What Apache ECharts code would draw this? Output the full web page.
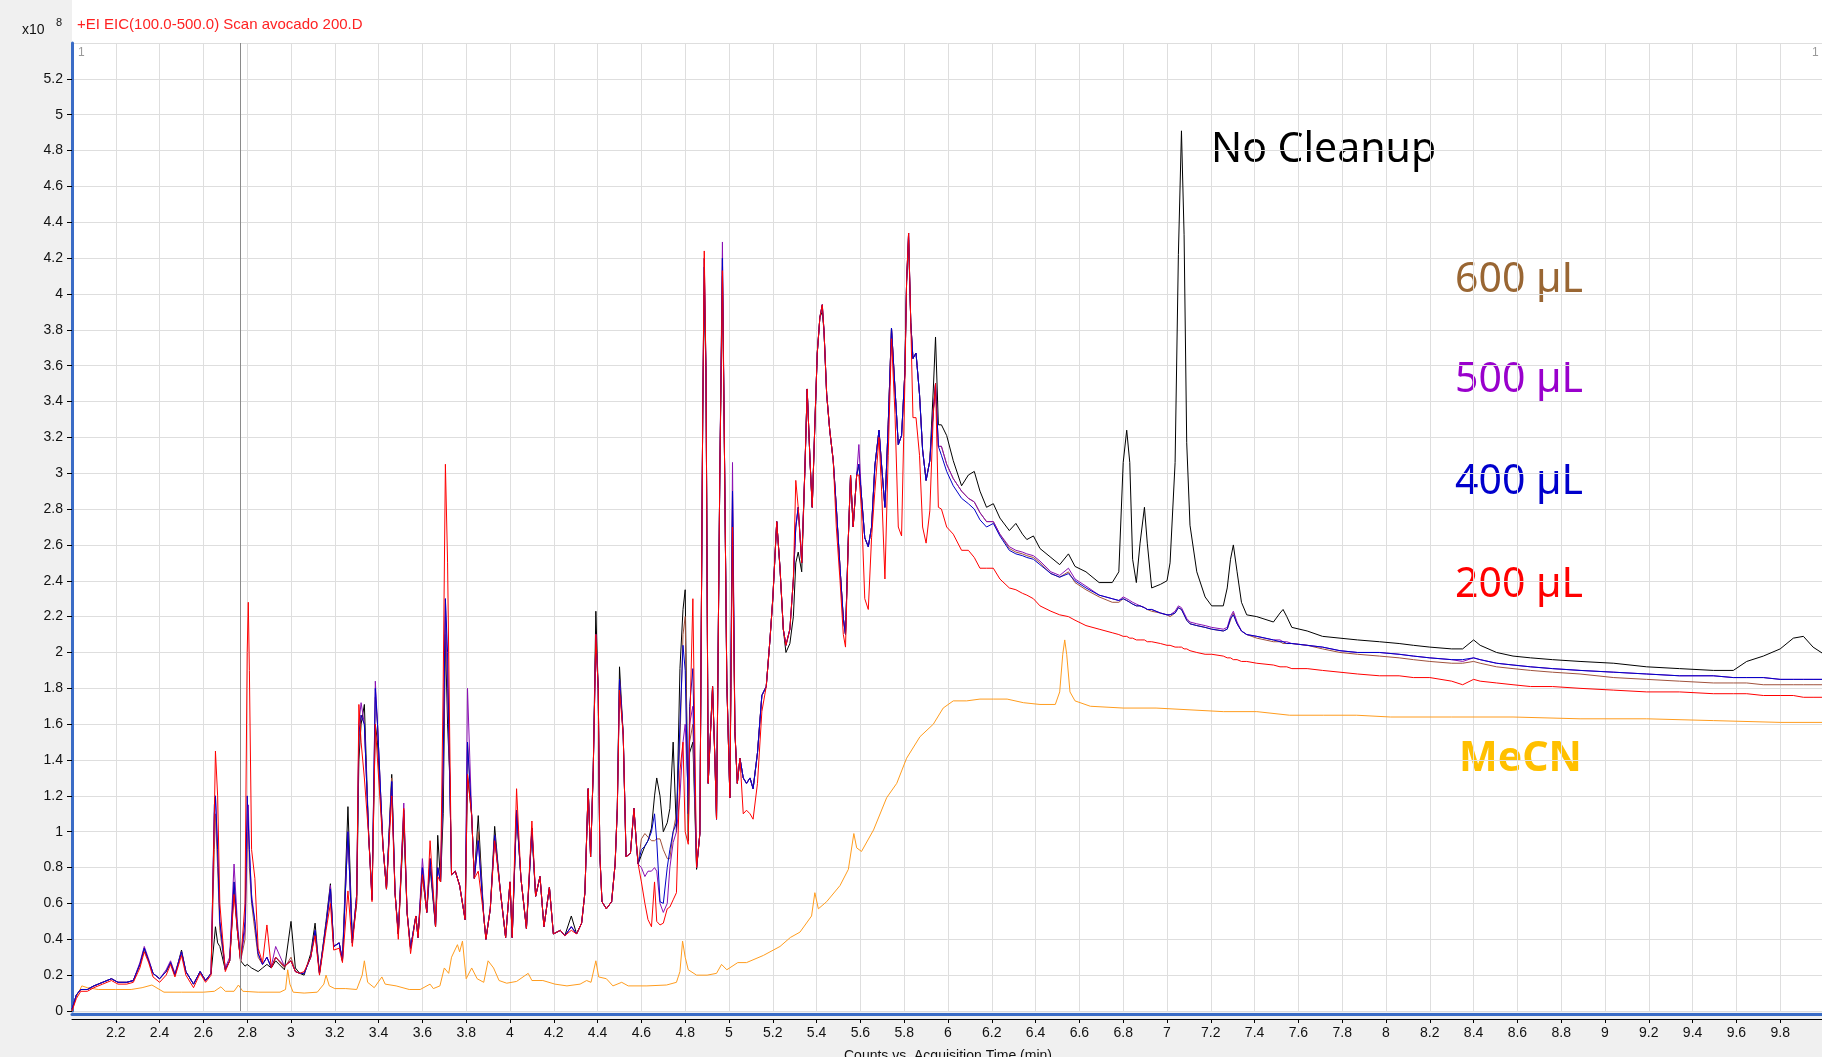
<!DOCTYPE html>
<html>
<head>
<meta charset="utf-8">
<title>EIC avocado</title>
<script src="https://cdn.jsdelivr.net/npm/echarts@6/dist/echarts.min.js"></script>
<style>
  html, body { margin: 0; padding: 0; background: #f0f0f0; }
  #chart { width: 1822px; height: 1057px; }
</style>
</head>
<body>
<div id="chart"></div>
<script>
// retention times (min) shared by the five extract traces
var times = [
  2.00, 2.02, 2.04, 2.07, 2.10, 2.14, 2.18, 2.21, 2.25, 2.28,
  2.31, 2.33, 2.35, 2.37, 2.40, 2.43, 2.45, 2.47, 2.50, 2.52,
  2.555, 2.585, 2.61, 2.635, 2.65, 2.655, 2.665, 2.675, 2.70, 2.72,
  2.74, 2.755, 2.77, 2.79, 2.80, 2.805, 2.81, 2.82, 2.835, 2.85,
  2.87, 2.89, 2.91, 2.93, 2.97, 3.00, 3.02, 3.04, 3.06, 3.09,
  3.11, 3.13, 3.16, 3.18, 3.195, 3.22, 3.235, 3.26, 3.28, 3.30,
  3.31, 3.32, 3.335, 3.355, 3.37, 3.385, 3.395, 3.42, 3.436, 3.46,
  3.475, 3.49, 3.515, 3.53, 3.546, 3.57, 3.58, 3.60, 3.62, 3.635,
  3.66, 3.67, 3.683, 3.695, 3.705, 3.715, 3.725, 3.733, 3.75, 3.77,
  3.795, 3.806, 3.825, 3.837, 3.855, 3.88, 3.89, 3.91, 3.93, 3.955,
  3.98, 4.00, 4.01, 4.03, 4.05, 4.075, 4.10, 4.117, 4.137, 4.155,
  4.18, 4.198, 4.23, 4.25, 4.28, 4.304, 4.327, 4.342, 4.357, 4.368,
  4.38, 4.392, 4.403, 4.41, 4.42, 4.44, 4.464, 4.48, 4.49, 4.50,
  4.517, 4.53, 4.55, 4.566, 4.578, 4.585, 4.60, 4.616, 4.63, 4.646,
  4.66, 4.67, 4.685, 4.70, 4.718, 4.73, 4.745, 4.76, 4.776, 4.79,
  4.80, 4.814, 4.82, 4.835, 4.852, 4.867, 4.88, 4.887, 4.895, 4.905,
  4.925, 4.936, 4.943, 4.958, 4.97, 4.978, 4.99, 5.004, 5.016, 5.027,
  5.038, 5.05, 5.065, 5.08, 5.096, 5.11, 5.13, 5.15, 5.17, 5.187,
  5.20, 5.218, 5.233, 5.248, 5.26, 5.278, 5.294, 5.305, 5.316, 5.332,
  5.347, 5.357, 5.37, 5.38, 5.392, 5.403, 5.415, 5.426, 5.434, 5.446,
  5.46, 5.476, 5.49, 5.507, 5.522, 5.532, 5.545, 5.555, 5.567, 5.583,
  5.593, 5.605, 5.62, 5.636, 5.651, 5.666, 5.685, 5.697, 5.712, 5.727,
  5.742, 5.758, 5.773, 5.788, 5.803, 5.811, 5.82, 5.83, 5.84, 5.854,
  5.87, 5.884, 5.90, 5.917, 5.933, 5.943, 5.956, 5.97, 5.994, 6.024,
  6.062, 6.093, 6.12, 6.146, 6.176, 6.207, 6.237, 6.28, 6.31, 6.34,
  6.36, 6.39, 6.42, 6.47, 6.51, 6.55, 6.58, 6.63, 6.69, 6.75,
  6.78, 6.80, 6.816, 6.83, 6.843, 6.86, 6.877, 6.897, 6.91, 6.93,
  6.97, 7.00, 7.014, 7.037, 7.052, 7.066, 7.078, 7.09, 7.105, 7.136,
  7.174, 7.204, 7.257, 7.275, 7.29, 7.303, 7.32, 7.34, 7.364, 7.41,
  7.486, 7.516, 7.53, 7.547, 7.57, 7.64, 7.71, 7.79, 7.87, 7.97,
  8.06, 8.125, 8.20, 8.30, 8.35, 8.40, 8.43, 8.505, 8.58, 8.66,
  8.76, 8.886, 9.04, 9.19, 9.34, 9.495, 9.586, 9.647, 9.723, 9.80,
  9.86, 9.906, 9.95, 10.0
];

// counts, x10^8
var noCleanup = [
  0.01, 0.09, 0.12, 0.12, 0.14, 0.16, 0.18, 0.16, 0.16, 0.17,
  0.26, 0.35, 0.28, 0.21, 0.18, 0.22, 0.27, 0.20, 0.34, 0.22,
  0.15, 0.22, 0.17, 0.21, 0.40, 0.47, 0.38, 0.36, 0.23, 0.28,
  0.68, 0.45, 0.28, 0.25, 0.26, 0.26, 0.25, 0.24, 0.23, 0.22,
  0.24, 0.26, 0.24, 0.28, 0.23, 0.50, 0.24, 0.21, 0.20, 0.32,
  0.49, 0.21, 0.50, 0.71, 0.36, 0.38, 0.28, 1.14, 0.40, 0.60,
  1.40, 1.60, 1.71, 0.97, 0.65, 1.60, 1.50, 0.92, 0.68, 1.32,
  0.66, 0.43, 1.05, 0.55, 0.35, 0.53, 0.41, 0.76, 0.55, 0.80,
  0.47, 0.98, 0.72, 1.10, 2.10, 1.60, 1.30, 0.76, 0.78, 0.70,
  0.51, 1.32, 1.09, 0.74, 1.09, 0.53, 0.40, 0.57, 1.03, 0.68,
  0.41, 0.72, 0.41, 1.10, 0.74, 0.46, 1.00, 0.64, 0.75, 0.47,
  0.69, 0.43, 0.45, 0.42, 0.53, 0.43, 0.49, 0.66, 1.24, 0.86,
  1.34, 2.23, 1.79, 0.88, 0.61, 0.57, 0.61, 0.82, 1.13, 1.92,
  1.54, 0.86, 0.88, 1.13, 0.92, 0.82, 0.87, 0.92, 0.95, 1.02,
  1.20, 1.30, 1.20, 1.00, 1.05, 1.13, 1.50, 1.00, 1.91, 2.24,
  2.35, 0.95, 1.44, 1.50, 0.79, 0.99, 3.33, 4.00, 3.56, 1.27,
  1.81, 1.39, 1.07, 2.99, 4.10, 3.27, 1.84, 1.19, 2.80, 1.56,
  1.27, 1.41, 1.30, 1.27, 1.30, 1.24, 1.44, 1.76, 1.81, 2.07,
  2.30, 2.73, 2.47, 2.13, 2.00, 2.05, 2.20, 2.50, 2.56, 2.45,
  3.04, 3.47, 3.07, 2.81, 3.27, 3.67, 3.87, 3.90, 3.79, 3.44,
  3.24, 3.07, 2.81, 2.47, 2.19, 2.10, 2.64, 2.99, 2.70, 2.99,
  3.05, 2.87, 2.64, 2.59, 2.70, 3.04, 3.24, 3.04, 2.81, 3.27,
  3.81, 3.47, 3.16, 3.21, 3.56, 4.07, 4.30, 3.84, 3.64, 3.67,
  3.44, 3.13, 2.96, 3.07, 3.47, 3.76, 3.27, 3.27, 3.21, 3.07,
  2.93, 2.99, 3.01, 2.90, 2.81, 2.83, 2.75, 2.68, 2.72, 2.66,
  2.63, 2.65, 2.58, 2.53, 2.49, 2.55, 2.48, 2.45, 2.39, 2.39,
  2.45, 3.06, 3.24, 3.06, 2.52, 2.39, 2.61, 2.81, 2.61, 2.36,
  2.38, 2.40, 2.50, 3.06, 4.22, 4.91, 4.33, 3.17, 2.71, 2.45,
  2.31, 2.26, 2.26, 2.36, 2.52, 2.60, 2.45, 2.28, 2.21, 2.20,
  2.17, 2.22, 2.24, 2.20, 2.14, 2.12, 2.09, 2.08, 2.07, 2.06,
  2.05, 2.04, 2.03, 2.02, 2.02, 2.07, 2.04, 2.00, 1.98, 1.97,
  1.96, 1.95, 1.94, 1.92, 1.91, 1.90, 1.90, 1.95, 1.98, 2.02,
  2.08, 2.09, 2.03, 1.99
];

var ul600 = [
  0.01, 0.09, 0.12, 0.12, 0.14, 0.16, 0.18, 0.16, 0.16, 0.17,
  0.26, 0.34, 0.28, 0.21, 0.18, 0.22, 0.27, 0.20, 0.33, 0.22,
  0.15, 0.22, 0.17, 0.21, 0.90, 1.10, 0.80, 0.45, 0.23, 0.28,
  0.72, 0.45, 0.28, 0.40, 0.90, 1.10, 0.80, 0.60, 0.45, 0.30,
  0.26, 0.30, 0.24, 0.30, 0.24, 0.30, 0.22, 0.21, 0.21, 0.30,
  0.45, 0.21, 0.48, 0.66, 0.36, 0.38, 0.28, 1.00, 0.38, 0.65,
  1.50, 1.65, 1.60, 0.97, 0.63, 1.75, 1.60, 0.92, 0.68, 1.30,
  0.66, 0.43, 1.10, 0.55, 0.35, 0.53, 0.41, 0.80, 0.55, 0.85,
  0.47, 0.80, 0.72, 1.30, 2.20, 1.80, 1.30, 0.76, 0.78, 0.70,
  0.51, 1.50, 1.09, 0.74, 1.00, 0.53, 0.40, 0.57, 0.98, 0.68,
  0.41, 0.72, 0.41, 1.12, 0.74, 0.46, 1.02, 0.64, 0.75, 0.47,
  0.69, 0.43, 0.45, 0.42, 0.47, 0.43, 0.49, 0.66, 1.24, 0.86,
  1.34, 2.10, 1.79, 0.88, 0.61, 0.57, 0.61, 0.82, 1.13, 1.85,
  1.54, 0.86, 0.88, 1.13, 0.92, 0.82, 0.96, 0.99, 0.97, 0.95,
  0.95, 0.96, 0.96, 0.90, 0.85, 0.85, 1.00, 1.10, 1.50, 2.10,
  2.20, 1.00, 1.50, 1.60, 0.80, 0.99, 3.33, 4.20, 3.56, 1.27,
  1.81, 1.39, 1.07, 2.99, 4.20, 3.27, 1.84, 1.19, 2.90, 1.56,
  1.27, 1.41, 1.30, 1.27, 1.30, 1.24, 1.44, 1.76, 1.81, 2.07,
  2.30, 2.73, 2.47, 2.13, 2.04, 2.13, 2.41, 2.70, 2.81, 2.50,
  3.04, 3.47, 3.07, 2.81, 3.27, 3.67, 3.87, 3.94, 3.79, 3.44,
  3.24, 3.07, 2.81, 2.47, 2.19, 2.10, 2.64, 2.99, 2.70, 2.99,
  3.05, 2.87, 2.64, 2.59, 2.70, 3.04, 3.24, 3.04, 2.81, 3.27,
  3.81, 3.47, 3.16, 3.21, 3.56, 4.07, 4.34, 3.84, 3.64, 3.67,
  3.44, 3.13, 2.96, 3.07, 3.35, 3.50, 3.15, 3.15, 3.05, 2.97,
  2.90, 2.86, 2.84, 2.78, 2.73, 2.73, 2.66, 2.58, 2.56, 2.55,
  2.54, 2.53, 2.50, 2.44, 2.42, 2.45, 2.39, 2.35, 2.31, 2.28,
  2.28, 2.30, 2.29, 2.28, 2.27, 2.26, 2.26, 2.25, 2.24, 2.23,
  2.22, 2.21, 2.20, 2.22, 2.25, 2.24, 2.21, 2.18, 2.16, 2.15,
  2.14, 2.13, 2.12, 2.13, 2.18, 2.22, 2.16, 2.12, 2.10, 2.08,
  2.06, 2.06, 2.05, 2.05, 2.05, 2.04, 2.02, 2.00, 1.99, 1.98,
  1.97, 1.96, 1.95, 1.94, 1.94, 1.95, 1.94, 1.92, 1.91, 1.90,
  1.89, 1.88, 1.86, 1.85, 1.84, 1.83, 1.83, 1.83, 1.82, 1.82,
  1.82, 1.82, 1.82, 1.82
];

var ul500 = [
  0.01, 0.09, 0.12, 0.12, 0.14, 0.16, 0.18, 0.16, 0.16, 0.17,
  0.27, 0.36, 0.29, 0.21, 0.18, 0.23, 0.28, 0.21, 0.33, 0.22,
  0.15, 0.22, 0.17, 0.21, 1.10, 1.20, 0.90, 0.50, 0.24, 0.30,
  0.82, 0.50, 0.29, 0.45, 1.00, 1.15, 0.90, 0.65, 0.50, 0.32,
  0.26, 0.30, 0.25, 0.36, 0.25, 0.28, 0.22, 0.21, 0.21, 0.30,
  0.45, 0.21, 0.48, 0.70, 0.36, 0.38, 0.28, 1.00, 0.38, 0.65,
  1.60, 1.72, 1.60, 0.97, 0.62, 1.84, 1.60, 0.92, 0.68, 1.28,
  0.66, 0.43, 1.16, 0.55, 0.35, 0.53, 0.41, 0.85, 0.55, 0.85,
  0.47, 0.80, 0.72, 1.40, 2.30, 1.80, 1.30, 0.76, 0.78, 0.70,
  0.51, 1.80, 1.09, 0.74, 0.95, 0.53, 0.40, 0.57, 0.98, 0.68,
  0.41, 0.72, 0.41, 1.12, 0.74, 0.46, 1.02, 0.64, 0.75, 0.47,
  0.69, 0.43, 0.45, 0.42, 0.47, 0.43, 0.49, 0.66, 1.24, 0.86,
  1.34, 2.10, 1.79, 0.88, 0.61, 0.57, 0.61, 0.82, 1.13, 1.85,
  1.54, 0.86, 0.88, 1.13, 0.92, 0.82, 0.80, 0.75, 0.78, 0.78,
  0.80, 0.78, 0.60, 0.55, 0.60, 0.80, 0.94, 1.00, 1.20, 1.50,
  1.60, 1.20, 1.60, 1.70, 0.80, 0.99, 3.33, 4.20, 3.56, 1.27,
  1.81, 1.39, 1.07, 2.99, 4.29, 3.27, 1.84, 1.19, 3.06, 1.56,
  1.27, 1.41, 1.30, 1.27, 1.30, 1.24, 1.44, 1.76, 1.81, 2.07,
  2.30, 2.73, 2.47, 2.13, 2.04, 2.13, 2.41, 2.70, 2.81, 2.50,
  3.04, 3.47, 3.07, 2.81, 3.27, 3.67, 3.87, 3.94, 3.79, 3.44,
  3.24, 3.07, 2.81, 2.47, 2.19, 2.10, 2.64, 2.99, 2.70, 2.99,
  3.16, 2.87, 2.64, 2.59, 2.70, 3.04, 3.24, 3.04, 2.81, 3.27,
  3.81, 3.47, 3.16, 3.21, 3.56, 4.07, 4.34, 3.84, 3.64, 3.67,
  3.44, 3.13, 2.96, 3.07, 3.35, 3.50, 3.15, 3.15, 3.05, 2.97,
  2.90, 2.86, 2.84, 2.78, 2.73, 2.73, 2.66, 2.59, 2.57, 2.56,
  2.55, 2.54, 2.51, 2.45, 2.43, 2.47, 2.41, 2.37, 2.32, 2.30,
  2.29, 2.31, 2.30, 2.29, 2.28, 2.27, 2.26, 2.25, 2.24, 2.24,
  2.22, 2.21, 2.21, 2.23, 2.26, 2.25, 2.22, 2.19, 2.17, 2.16,
  2.15, 2.14, 2.13, 2.14, 2.20, 2.23, 2.17, 2.12, 2.10, 2.09,
  2.07, 2.07, 2.06, 2.06, 2.05, 2.04, 2.03, 2.01, 2.00, 2.00,
  1.99, 1.98, 1.97, 1.96, 1.95, 1.97, 1.96, 1.94, 1.93, 1.92,
  1.91, 1.90, 1.89, 1.88, 1.87, 1.87, 1.86, 1.86, 1.86, 1.85,
  1.85, 1.85, 1.85, 1.85
];

var ul400 = [
  0.01, 0.09, 0.12, 0.12, 0.14, 0.16, 0.18, 0.16, 0.16, 0.17,
  0.26, 0.35, 0.28, 0.21, 0.18, 0.22, 0.27, 0.20, 0.33, 0.22,
  0.15, 0.22, 0.17, 0.21, 1.15, 1.20, 0.90, 0.50, 0.23, 0.28,
  0.72, 0.46, 0.28, 0.50, 1.20, 1.20, 0.90, 0.62, 0.50, 0.32,
  0.26, 0.30, 0.24, 0.30, 0.25, 0.28, 0.22, 0.21, 0.21, 0.30,
  0.45, 0.21, 0.48, 0.68, 0.36, 0.38, 0.28, 1.00, 0.38, 0.65,
  1.55, 1.65, 1.60, 0.97, 0.62, 1.80, 1.60, 0.92, 0.68, 1.28,
  0.66, 0.43, 1.12, 0.55, 0.35, 0.53, 0.41, 0.80, 0.55, 0.85,
  0.47, 0.80, 0.72, 1.40, 2.30, 2.00, 1.30, 0.76, 0.78, 0.70,
  0.51, 1.50, 1.09, 0.74, 0.95, 0.53, 0.40, 0.57, 0.98, 0.68,
  0.41, 0.72, 0.41, 1.12, 0.74, 0.46, 1.02, 0.64, 0.75, 0.47,
  0.69, 0.43, 0.45, 0.42, 0.47, 0.43, 0.49, 0.66, 1.24, 0.86,
  1.34, 2.10, 1.79, 0.88, 0.61, 0.57, 0.61, 0.82, 1.13, 1.85,
  1.54, 0.86, 0.88, 1.13, 0.92, 0.82, 0.90, 0.92, 0.95, 1.00,
  1.10, 0.95, 0.61, 0.60, 0.80, 0.90, 1.00, 1.05, 1.60, 2.04,
  1.90, 1.10, 1.70, 1.91, 0.80, 0.99, 3.33, 4.15, 3.56, 1.27,
  1.81, 1.39, 1.07, 2.99, 4.20, 3.27, 1.84, 1.19, 2.90, 1.56,
  1.27, 1.41, 1.30, 1.27, 1.30, 1.24, 1.44, 1.76, 1.81, 2.07,
  2.30, 2.73, 2.47, 2.13, 2.04, 2.13, 2.41, 2.70, 2.81, 2.50,
  3.04, 3.47, 3.07, 2.81, 3.27, 3.67, 3.87, 3.94, 3.79, 3.44,
  3.24, 3.07, 2.81, 2.47, 2.19, 2.10, 2.64, 2.99, 2.70, 2.99,
  3.05, 2.87, 2.64, 2.59, 2.70, 3.04, 3.24, 3.04, 2.81, 3.27,
  3.81, 3.47, 3.16, 3.21, 3.56, 4.07, 4.34, 3.84, 3.64, 3.67,
  3.44, 3.13, 2.96, 3.07, 3.35, 3.50, 3.15, 3.10, 3.01, 2.93,
  2.86, 2.83, 2.80, 2.74, 2.70, 2.72, 2.65, 2.57, 2.55, 2.54,
  2.53, 2.52, 2.49, 2.44, 2.42, 2.44, 2.40, 2.36, 2.32, 2.30,
  2.29, 2.30, 2.29, 2.28, 2.27, 2.26, 2.26, 2.25, 2.24, 2.24,
  2.22, 2.21, 2.21, 2.22, 2.25, 2.24, 2.21, 2.18, 2.16, 2.15,
  2.14, 2.13, 2.12, 2.13, 2.19, 2.21, 2.16, 2.12, 2.10, 2.09,
  2.07, 2.06, 2.06, 2.05, 2.05, 2.04, 2.03, 2.01, 2.00, 2.00,
  1.99, 1.98, 1.97, 1.96, 1.96, 1.97, 1.96, 1.94, 1.93, 1.92,
  1.91, 1.90, 1.89, 1.88, 1.87, 1.87, 1.86, 1.86, 1.86, 1.85,
  1.85, 1.85, 1.85, 1.85
];

var ul200 = [
  0.00, 0.07, 0.11, 0.11, 0.13, 0.15, 0.17, 0.15, 0.15, 0.16,
  0.24, 0.33, 0.27, 0.19, 0.16, 0.20, 0.26, 0.19, 0.31, 0.20,
  0.13, 0.21, 0.16, 0.20, 1.10, 1.45, 1.20, 0.60, 0.22, 0.28,
  0.65, 0.45, 0.27, 0.60, 2.00, 2.28, 1.90, 0.90, 0.74, 0.35,
  0.27, 0.48, 0.24, 0.30, 0.25, 0.28, 0.22, 0.21, 0.22, 0.30,
  0.42, 0.20, 0.45, 0.60, 0.34, 0.35, 0.27, 0.67, 0.36, 0.62,
  1.71, 1.50, 1.30, 0.97, 0.61, 1.60, 1.40, 0.92, 0.68, 1.20,
  0.66, 0.40, 1.13, 0.55, 0.32, 0.53, 0.41, 0.76, 0.55, 0.95,
  0.47, 0.75, 0.72, 1.83, 3.05, 2.50, 1.50, 0.76, 0.78, 0.70,
  0.51, 1.32, 1.09, 0.74, 0.78, 0.53, 0.40, 0.57, 0.95, 0.68,
  0.41, 0.72, 0.41, 1.24, 0.74, 0.46, 1.06, 0.64, 0.75, 0.47,
  0.69, 0.43, 0.45, 0.42, 0.45, 0.43, 0.49, 0.66, 1.24, 0.86,
  1.34, 2.10, 1.79, 0.88, 0.61, 0.57, 0.61, 0.82, 1.13, 1.79,
  1.54, 0.86, 0.88, 1.13, 0.92, 0.82, 0.72, 0.60, 0.51, 0.47,
  0.72, 0.50, 0.48, 0.49, 0.57, 0.58, 0.62, 0.66, 1.34, 1.50,
  1.00, 0.93, 1.54, 2.30, 0.80, 0.99, 3.33, 4.24, 3.56, 1.27,
  1.81, 1.39, 1.07, 2.99, 4.13, 3.27, 1.84, 1.19, 2.70, 1.56,
  1.27, 1.41, 1.10, 1.12, 1.10, 1.07, 1.27, 1.67, 1.81, 2.07,
  2.30, 2.73, 2.47, 2.13, 2.04, 2.13, 2.41, 2.96, 2.81, 2.50,
  3.04, 3.47, 3.07, 2.81, 3.27, 3.67, 3.87, 3.94, 3.79, 3.44,
  3.24, 3.07, 2.70, 2.40, 2.10, 2.03, 2.64, 2.99, 2.70, 2.99,
  2.99, 2.80, 2.30, 2.24, 2.64, 2.90, 3.20, 2.90, 2.41, 3.10,
  3.75, 3.33, 2.70, 2.65, 3.50, 4.07, 4.34, 3.84, 3.31, 3.31,
  3.10, 2.70, 2.61, 2.79, 3.33, 3.50, 2.81, 2.80, 2.70, 2.66,
  2.57, 2.57, 2.53, 2.47, 2.47, 2.47, 2.41, 2.36, 2.35, 2.33,
  2.32, 2.30, 2.26, 2.23, 2.21, 2.20, 2.18, 2.15, 2.13, 2.11,
  2.10, 2.09, 2.09, 2.08, 2.08, 2.07, 2.07, 2.07, 2.06, 2.06,
  2.05, 2.04, 2.04, 2.03, 2.03, 2.03, 2.02, 2.02, 2.01, 2.00,
  1.99, 1.99, 1.98, 1.97, 1.97, 1.96, 1.96, 1.95, 1.95, 1.94,
  1.93, 1.92, 1.92, 1.92, 1.91, 1.91, 1.90, 1.89, 1.88, 1.87,
  1.87, 1.86, 1.86, 1.84, 1.82, 1.85, 1.84, 1.83, 1.82, 1.81,
  1.81, 1.80, 1.79, 1.78, 1.78, 1.77, 1.77, 1.77, 1.76, 1.76,
  1.76, 1.75, 1.75, 1.75
];

// solvent blank (MeCN), its own time points
var mecnTimes = [
  2.00, 2.02, 2.045, 2.07, 2.12, 2.20, 2.27, 2.32, 2.365, 2.42,
  2.50, 2.60, 2.65, 2.68, 2.70, 2.74, 2.76, 2.78, 2.85, 2.95,
  2.975, 2.985, 2.995, 3.01, 3.06, 3.12, 3.15, 3.16, 3.175, 3.20,
  3.25, 3.30, 3.325, 3.335, 3.35, 3.38, 3.415, 3.43, 3.48, 3.54,
  3.59, 3.635, 3.65, 3.68, 3.70, 3.72, 3.733, 3.76, 3.77, 3.783,
  3.80, 3.825, 3.85, 3.88, 3.90, 3.925, 3.95, 3.985, 4.03, 4.083,
  4.10, 4.15, 4.205, 4.26, 4.32, 4.35, 4.37, 4.392, 4.405, 4.44,
  4.47, 4.51, 4.54, 4.625, 4.715, 4.76, 4.776, 4.788, 4.80, 4.814,
  4.852, 4.90, 4.943, 4.966, 4.99, 5.04, 5.08, 5.157, 5.233, 5.28,
  5.324, 5.377, 5.392, 5.408, 5.446, 5.507, 5.545, 5.57, 5.583, 5.605,
  5.66, 5.72, 5.766, 5.811, 5.872, 5.933, 5.978, 6.024, 6.085, 6.146,
  6.207, 6.27, 6.344, 6.42, 6.49, 6.51, 6.524, 6.533, 6.542, 6.557,
  6.58, 6.65, 6.80, 6.95, 7.105, 7.257, 7.41, 7.56, 7.714, 7.866,
  8.02, 8.30, 8.58, 8.886, 9.19, 9.495, 9.80, 10.0
];
var mecn = [
  0.00, 0.08, 0.14, 0.13, 0.12, 0.12, 0.12, 0.13, 0.145, 0.105,
  0.105, 0.105, 0.11, 0.135, 0.11, 0.11, 0.145, 0.11, 0.105, 0.105,
  0.12, 0.23, 0.15, 0.105, 0.10, 0.105, 0.15, 0.20, 0.14, 0.125,
  0.125, 0.12, 0.20, 0.28, 0.16, 0.13, 0.19, 0.15, 0.14, 0.12,
  0.12, 0.15, 0.125, 0.14, 0.24, 0.21, 0.30, 0.37, 0.33, 0.39,
  0.18, 0.24, 0.18, 0.16, 0.28, 0.24, 0.17, 0.155, 0.165, 0.21,
  0.17, 0.17, 0.15, 0.14, 0.15, 0.17, 0.16, 0.28, 0.19, 0.18,
  0.14, 0.16, 0.14, 0.14, 0.145, 0.16, 0.22, 0.39, 0.30, 0.23,
  0.20, 0.20, 0.21, 0.26, 0.23, 0.27, 0.27, 0.31, 0.36, 0.41,
  0.44, 0.53, 0.66, 0.57, 0.61, 0.70, 0.79, 0.99, 0.91, 0.89,
  1.01, 1.19, 1.27, 1.41, 1.53, 1.60, 1.69, 1.73, 1.73, 1.74,
  1.74, 1.74, 1.72, 1.71, 1.71, 1.78, 1.99, 2.07, 1.99, 1.78,
  1.73, 1.70, 1.69, 1.69, 1.68, 1.67, 1.67, 1.65, 1.65, 1.65,
  1.64, 1.64, 1.64, 1.63, 1.63, 1.62, 1.61, 1.61
];

var cursorTime = 2.77;

function pairs(xs, ys) {
  return xs.map(function (x, i) { return [x, ys[i]]; });
}

function trace(name, color, xs, ys) {
  return {
    name: name,
    type: 'line',
    showSymbol: false,
    symbol: 'none',
    lineStyle: { color: color, width: 1 },
    itemStyle: { color: color },
    data: pairs(xs, ys)
  };
}

function tickText(v) {
  return String(+v.toFixed(1));
}

function label(text, x, y, color, font) {
  return {
    type: 'text', x: x, y: y, silent: true,
    style: { text: text, fill: color, font: font, textVerticalAlign: 'middle', stroke: 'none', lineWidth: 0 }
  };
}

var chart = echarts.init(document.getElementById('chart'));

var mecnSeries = trace('MeCN', '#ff9c1e', mecnTimes, mecn);
mecnSeries.markLine = {
  silent: true,
  symbol: 'none',
  label: { show: false },
  lineStyle: { color: '#8a8a8a', width: 1, type: 'solid' },
  data: [{ xAxis: cursorTime }]
};

var bigFont = '41px "Noto Sans"';

var option = {
  animation: false,
  backgroundColor: '#f0f0f0',
  grid: {
    left: 72, right: -2, top: 43, bottom: 46,
    containLabel: false, outerBoundsMode: 'none',
    show: true, backgroundColor: '#ffffff', borderWidth: 0
  },
  xAxis: [{
    type: 'value', min: 2, max: 10, interval: 0.2,
    position: 'bottom', offset: 3,
    axisLine: { show: true, onZero: false, lineStyle: { color: '#3a6cc6', width: 3 } },
    axisTick: { show: false },
    axisLabel: { show: false },
    splitLine: { show: true, lineStyle: { color: '#dedede', width: 1 } }
  }, {
    type: 'value', min: 2, max: 10, interval: 0.2,
    position: 'bottom', offset: 8,
    axisLine: { show: true, onZero: false, lineStyle: { color: '#000', width: 1 } },
    axisTick: { show: true, length: 4, lineStyle: { color: '#000' } },
    axisLabel: {
      color: '#111', fontSize: 14, fontFamily: 'Liberation Sans', margin: 7,
      showMinLabel: false, showMaxLabel: false, formatter: tickText
    },
    splitLine: { show: false },
    name: 'Counts vs. Acquisition Time (min)',
    nameLocation: 'middle', nameGap: 30,
    nameTextStyle: { color: '#111', fontSize: 14, fontFamily: 'Liberation Sans' }
  }],
  yAxis: {
    type: 'value', min: 0, max: 5.4, interval: 0.2,
    axisLine: { show: true, onZero: false, lineStyle: { color: '#3a6cc6', width: 3 } },
    axisTick: { show: true, length: 5, lineStyle: { color: '#000' } },
    axisLabel: {
      color: '#111', fontSize: 14, fontFamily: 'Liberation Sans', margin: 9,
      showMaxLabel: false, formatter: tickText
    },
    splitLine: { show: true, lineStyle: { color: '#dedede', width: 1 } }
  },
  graphic: [
    { type: 'rect', z: -1, silent: true, shape: { x: 72, y: 0, width: 1750, height: 43 }, style: { fill: '#ffffff' } },
    label('+EI EIC(100.0-500.0) Scan avocado 200.D', 77, 25, '#f22', '15px "Liberation Sans"'),
    label('x10', 22, 30, '#111', '14px "Liberation Sans"'),
    label('8', 56, 23, '#111', '11px "Liberation Sans"'),
    label('1', 78, 53, '#999', '12px "Liberation Sans"'),
    label('1', 1812, 53, '#999', '12px "Liberation Sans"'),
    label('No Cleanup', 1211, 150, '#000', bigFont),
    label('600 µL', 1455, 280, '#996633', bigFont),
    label('500 µL', 1455, 380, '#9900cc', bigFont),
    label('400 µL', 1455, 482, '#0000cc', bigFont),
    label('200 µL', 1455, 585, '#ff0000', bigFont),
    label('MeCN', 1459, 759, '#ffc000', 'bold ' + bigFont)
  ],
  series: [
    mecnSeries,
    trace('No Cleanup', '#000000', times, noCleanup),
    trace('600 µL', '#a0523c', times, ul600),
    trace('500 µL', '#8a10b4', times, ul500),
    trace('400 µL', '#0000c8', times, ul400),
    trace('200 µL', '#ff0000', times, ul200)
  ]
};

chart.setOption(option);
window.addEventListener('resize', function () {
  chart.resize();
});
</script>
</body>
</html>
